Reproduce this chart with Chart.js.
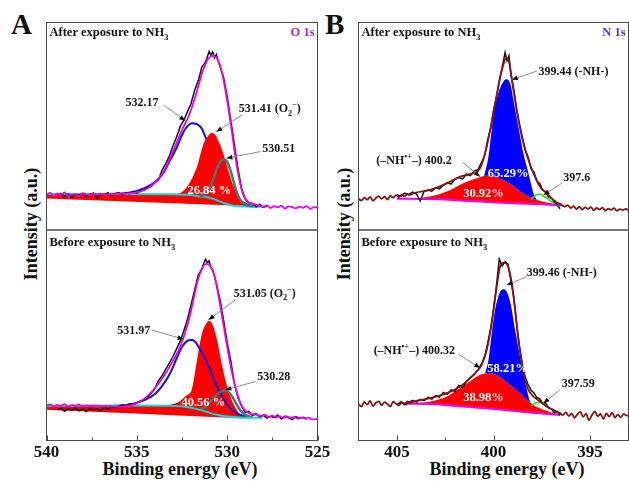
<!DOCTYPE html>
<html><head><meta charset="utf-8">
<script src="https://cdn.jsdelivr.net/npm/chart.js@4.4.1/dist/chart.umd.min.js"></script>
<style>
html,body{margin:0;padding:0;background:#fff;}
body{width:629px;height:481px;position:relative;overflow:hidden;font-family:'Liberation Serif','Times New Roman',serif;color:#111;}
canvas{position:absolute;}
.big{position:absolute;font-weight:bold;font-size:29px;line-height:32px;}
.ytitle{position:absolute;width:200px;height:20px;line-height:20px;font-size:18px;font-weight:bold;text-align:center;transform:rotate(-90deg);white-space:nowrap;}
.xtitle{position:absolute;width:300px;height:20px;line-height:20px;font-size:18px;font-weight:bold;text-align:center;white-space:nowrap;}
</style></head><body>
<div class="big" style="left:11px;top:7.5px;">A</div>
<div class="big" style="left:325px;top:7.5px;">B</div>
<div class="ytitle" style="left:-69px;top:214px;">Intensity (a.u.)</div>
<div class="ytitle" style="left:244px;top:214px;">Intensity (a.u.)</div>
<div class="xtitle" style="left:30px;top:459px;">Binding energy (eV)</div>
<div class="xtitle" style="left:357px;top:459px;">Binding energy (eV)</div>
<canvas id="tl" width="335" height="221" style="left:10px;top:16px;"></canvas>
<canvas id="bl" width="335" height="257" style="left:10px;top:224px;"></canvas>
<canvas id="tr" width="277" height="221" style="left:352px;top:16px;"></canvas>
<canvas id="br" width="277" height="257" style="left:352px;top:224px;"></canvas>
<script>
// ---------------- tick labels ----------------
const o1sTicks = [540, 535, 530, 525];
const o1sMinor = [537.5, 532.5, 527.5];
const n1sTicks = [405, 400, 395];
const n1sMinor = [402.5, 397.5];

// ---------------- O 1s, after exposure (binding energy eV, intensity a.u.) ----------------
const tlEnvelope = [[540.0,17.2],[539.8,17.9],[539.6,16.5],[539.4,17.6],[539.2,16.9],[539.0,18.1],[538.8,15.9],[538.6,17.3],[538.4,17.0],[538.2,16.4],[538.0,17.7],[537.8,17.2],[537.6,16.8],[537.4,17.5],[537.2,17.1],[537.0,17.4],[536.7,17.2],[536.4,17.4],
 [535.92,17.4],[535.2,17.9],[534.81,18.5],[534.26,20.9],[533.52,28.1],[532.97,38.6],[532.50,48.2],[532.14,54.7],[531.76,64.3],[531.39,75.6],[531.03,82.8],[530.75,83.9],[530.47,81.2],[530.28,75.6],[530.10,67.5],[529.92,57.9],[529.73,46.7],[529.55,35.4],[529.36,25.7],[529.17,18.5],[528.90,13.7],[528.53,12.5],[528.16,11.6],
 [528.0,11.2],[527.8,11.9],[527.6,10.6],[527.4,11.5],[527.2,10.9],[527.0,11.7],[526.8,10.3],[526.6,11.4],[526.4,11.0],[526.2,10.4],[526.0,11.3],[525.8,10.7],[525.6,11.5],[525.4,10.2],[525.2,11.0],[525.0,10.8]];
const tlRaw = [[539.4,16.8],[539.2,17.5],[539.0,16.2],[538.8,17.4],[538.6,15.6],[538.4,17.2],[538.2,16.9],[538.0,17.6],[537.8,16.0],[537.6,17.3],[537.4,17.8],[537.2,15.4],[537.0,17.5],[536.8,17.0],[536.6,18.0],[536.4,16.3],[536.2,17.6],[536.0,17.9],[535.8,16.8],[535.6,18.2],[535.4,17.5],[535.2,18.4],[535.0,17.8],[534.8,18.9],[534.6,19.3],[534.4,20.4],[534.2,21.0],[534.0,22.8],[533.8,24.1],[533.6,28.9],[533.4,32.0],[533.2,35.6],[533.0,40.6],[532.8,44.8],[532.6,49.8],[532.4,52.9],[532.2,57.0],[532.0,61.0],[531.8,67.2],[531.6,72.0],[531.4,78.5],[531.2,80.9],[531.0,86.0],[530.9,84.2],[530.8,85.8],[530.7,83.0],[530.6,84.7],[530.5,81.5],[530.4,79.0],[530.2,73.5],[530.0,64.3],[529.8,53.0],[529.6,41.0],[529.4,29.4],[529.2,19.8],[529.0,15.2],[528.8,13.1],[528.6,12.8],[528.4,11.2],[528.2,12.3],[528.0,10.9],[527.8,11.6]];
const tlBaseline = [[540.0,17.3],[535.92,17.3],[533.70,17.2],[532.26,17.0],[531.49,16.2],[531.10,15.8],[530.77,15.0],[530.39,13.7],[530.0,12.5],[529.67,11.7],[529.28,11.4],[528.55,11.2],[528.05,11.2]];
const tlO2Peak = [[540.0,17.3],[535.0,17.3],[532.78,17.5],[532.22,20.9],[531.67,30.5],[531.30,41.8],[531.08,45.0],[530.89,46.7],[530.65,45.8],[530.47,42.6],[530.19,36.2],[529.92,28.1],[529.64,20.9],[529.36,15.3],[529.09,12.5],[528.90,11.6]];
const tlO2Floor = [[540.0,15.2],[528.90,11.6]];
const tl532Peak = [[536.48,17.3],[535.37,18.1],[534.54,20.3],[533.98,23.2],[533.52,27.6],[533.15,33.8],[532.78,40.0],[532.50,45.8],[532.22,49.8],[531.95,51.5],[531.67,51.0],[531.39,48.7],[531.21,45.0],[530.77,36.7],[530.39,28.0],[530.06,21.7],[529.71,17.4],[529.38,14.7],[529.05,13.0],[528.71,11.8],[528.27,11.3]];
const tl530Peak = [[531.49,16.1],[531.20,17.5],[530.93,21.2],[530.75,24.9],[530.56,29.8],[530.38,33.0],[530.19,34.1],[530.01,33.0],[529.82,28.9],[529.64,23.3],[529.45,17.7],[529.27,14.5],[528.99,12.2],[528.55,11.4]];

// ---------------- O 1s, before exposure ----------------
const blEnvelope = [[540.0,16.6],[539.8,17.2],[539.6,16.1],[539.4,16.9],[539.2,16.4],[539.0,17.3],[538.8,16.0],[538.6,16.8],[538.4,16.5],[538.2,17.0],[538.0,16.2],[537.8,16.7],[537.6,16.4],[537.3,16.6],[537.0,16.3],[536.6,16.4],[536.3,16.2],
 [535.92,16.1],[534.81,18.5],[534.08,24.1],[533.52,30.4],[532.97,38.3],[532.60,44.6],[532.22,54.1],[531.95,63.6],[531.67,74.7],[531.39,81.8],[531.15,83.9],[530.93,82.9],[530.69,77.8],[530.47,68.3],[530.19,54.1],[529.97,43.1],[529.73,32.0],[529.45,22.5],[529.17,16.1],[528.81,13.0],[528.34,12.2],
 [528.1,11.6],[527.9,12.3],[527.7,11.1],[527.5,11.8],[527.3,10.9],[527.1,11.6],[526.9,10.6],[526.7,11.4],[526.5,10.8],[526.3,11.2],[526.1,10.3],[525.9,11.0],[525.7,10.5],[525.5,10.9],[525.3,10.0],[525.0,10.2]];
const blRaw = [[539.4,14.6],[539.2,15.2],[539.0,13.9],[538.8,15.0],[538.6,14.3],[538.4,15.5],[538.2,14.1],[538.0,14.9],[537.8,13.8],[537.6,15.3],[537.4,14.5],[537.2,15.1],[537.0,14.2],[536.8,15.6],[536.6,14.8],[536.4,16.0],[536.2,15.5],[536.0,16.4],[535.8,16.9],[535.6,16.5],[535.4,17.3],[535.2,17.0],[535.0,17.9],[534.8,18.8],[534.6,19.2],[534.4,20.6],[534.2,22.4],[534.0,24.7],[533.8,28.5],[533.6,30.8],[533.4,33.9],[533.2,36.8],[533.0,39.9],[532.8,43.5],[532.6,47.2],[532.4,52.0],[532.2,57.5],[532.0,64.4],[531.8,71.5],[531.6,78.6],[531.4,81.4],[531.3,84.2],[531.2,86.0],[531.1,84.5],[531.0,85.3],[530.9,82.0],[530.8,81.2],[530.6,74.5],[530.4,67.0],[530.2,57.3],[530.0,46.5],[529.8,37.8],[529.6,26.9],[529.4,20.3],[529.2,16.2],[529.0,13.4],[528.8,13.9],[528.6,11.8],[528.4,12.7],[528.2,11.2],[528.0,12.0],[527.8,10.6],[527.6,11.5],[527.4,10.9],[527.2,12.1],[527.0,10.2],[526.8,11.6],[526.6,10.8],[526.4,9.9],[526.2,11.3],[526.0,10.5],[525.8,11.0],[525.6,10.1]];
const blBaseline = [[540.0,16.5],[535.92,16.6],[533.15,16.5],[532.22,15.9],[531.67,14.9],[531.11,13.5],[530.56,12.2],[530.01,11.4],[529.27,10.9],[528.53,10.8],[528.05,10.8]];
const blO2Peak = [[540.0,16.5],[535.0,16.6],[533.4,16.7],[533.0,17.3],[532.6,18.8],[532.27,21.2],[531.95,24.6],[531.67,38.3],[531.39,51.0],[531.15,55.7],[531.03,56.8],[530.84,55.7],[530.56,47.8],[530.38,39.9],[530.10,28.8],[529.82,20.9],[529.54,15.4],[529.27,12.2],[528.99,10.6]];
const blO2Floor = [[540.0,14.6],[528.99,10.5]];
const bl532Peak = [[536.48,16.2],[535.37,17.2],[534.54,19.3],[533.98,22.2],[533.52,26.9],[533.15,32.1],[532.78,39.3],[532.49,44.5],[532.14,47.6],[531.93,47.8],[531.76,46.8],[531.39,41.5],[531.02,35.1],[530.65,27.2],[530.28,20.9],[529.92,16.1],[529.55,13.3],[529.17,11.9],[528.71,10.9]];
const bl530Peak = [[531.49,14.6],[531.21,16.0],[530.93,18.4],[530.65,21.2],[530.38,23.1],[530.16,23.8],[529.93,23.1],[529.71,20.7],[529.49,17.4],[529.27,14.3],[528.99,12.2],[528.60,11.0]];

// ---------------- N 1s, after exposure ----------------
const trEnvelope = [[407.0,15.0],[406.85,14.2],[406.7,15.6],[406.55,14.6],[406.4,15.9],[406.25,14.1],[406.1,15.4],[405.95,16.3],[405.8,15.0],[405.65,16.1],[405.5,14.7],[405.35,16.4],[405.2,15.6],[405.05,16.8],[404.9,15.9],[404.75,17.0],[404.6,16.3],[404.45,17.4],[404.3,16.9],
 [404.15,17.7],[403.29,19.3],[402.42,22.5],[401.73,25.7],[401.04,27.4],[400.69,29.8],[400.35,40.2],[400.01,56.3],[399.75,69.1],[399.49,79.6],[399.35,82.8],[399.18,80.4],[398.97,67.5],[398.71,53.1],[398.45,41.8],[398.19,33.8],[397.93,27.4],[397.59,20.9],[397.24,17.7],[396.90,14.5],[396.46,12.1],
 [396.3,11.3],[396.15,12.0],[396.0,10.6],[395.85,11.5],[395.7,10.1],[395.55,11.2],[395.4,9.8],[395.25,10.9],[395.1,10.2],[394.95,11.0],[394.8,9.5],[394.65,10.6],[394.5,9.9],[394.35,10.8],[394.2,9.4],[394.05,10.3],[393.9,9.7],[393.75,10.5],[393.6,9.2],[393.45,10.1],[393.3,9.6],[393.15,10.2],[393.0,9.5]];
const trRaw = [[405.0,17.0],[404.8,16.2],[404.6,17.8],[404.4,16.9],[404.2,18.3],[404.0,17.5],[403.8,14.0],[403.6,18.6],[403.4,19.3],[403.2,18.7],[403.0,20.4],[402.8,19.8],[402.6,21.6],[402.4,22.9],[402.2,22.1],[402.0,24.5],[401.8,25.3],[401.6,24.6],[401.4,27.0],[401.2,26.2],[401.0,28.5],[400.8,29.1],[400.6,33.0],[400.45,36.2],[400.3,43.5],[400.15,49.0],[400.0,57.5],[399.85,63.8],[399.7,72.0],[399.55,78.4],[399.4,85.5],[399.3,81.6],[399.2,84.0],[399.1,75.2],[398.95,67.9],[398.8,58.5],[398.65,51.0],[398.5,44.5],[398.35,38.6],[398.2,35.0],[398.05,29.4],[397.9,27.9],[397.75,23.5],[397.6,22.4],[397.45,19.2],[397.3,18.5],[397.15,16.0],[397.0,15.4],[396.85,13.6],[396.7,12.4],[396.55,10.2]];
const trBaseline = [[405.01,15.1],[403.28,14.9],[400.69,13.7],[398.97,12.9],[397.59,12.4],[396.45,11.8]];
const trNHPlusPeak = [[404.32,14.9],[403.29,16.1],[402.42,18.5],[401.56,22.5],[400.87,24.9],[400.35,26.1],[399.92,25.7],[399.49,24.1],[399.05,21.7],[398.62,18.5],[398.19,16.1],[397.76,14.5],[397.24,13.2],[396.55,12.0]];
const trNHPeak = [[400.49,25.9],[400.26,35.4],[400.01,54.7],[399.75,66.0],[399.49,71.5],[399.35,72.7],[399.14,70.8],[398.97,62.7],[398.71,49.8],[398.45,37.0],[398.19,27.4],[398.02,20.9],[397.90,16.9],[397.74,14.5]];
const tr3976Peak = [[398.05,14.7],[397.90,16.2],[397.74,17.1],[397.59,17.2],[397.43,16.5],[397.22,15.2],[397.02,13.8],[396.81,12.8],[396.55,12.1]];

// ---------------- N 1s, before exposure ----------------
const brEnvelope = [[407.0,17.2],[406.85,16.1],[406.7,18.3],[406.55,17.0],[406.4,18.8],[406.25,16.4],[406.1,17.9],[405.95,18.6],[405.8,16.8],[405.65,18.2],[405.5,17.3],[405.35,16.2],[405.2,18.4],[405.05,17.5],[404.9,16.7],[404.75,18.1],[404.6,17.6],[404.45,18.6],[404.3,17.9],
 [404.15,18.5],[403.29,20.1],[402.42,22.5],[401.73,25.6],[401.21,29.6],[400.87,32.8],[400.61,35.9],[400.35,43.1],[400.09,55.7],[399.83,73.1],[399.66,82.6],[399.45,84.5],[399.28,83.4],[399.05,74.7],[398.88,62.0],[398.71,47.8],[398.53,36.7],[398.36,28.8],[398.19,24.1],[397.93,20.9],[397.59,18.5],[397.24,16.1],[396.90,14.6],[396.55,13.0],
 [396.4,12.1],[396.25,13.4],[396.1,11.6],[395.95,12.9],[395.8,10.8],[395.65,12.5],[395.5,13.6],[395.35,11.2],[395.2,12.7],[395.05,9.6],[394.9,12.0],[394.75,13.8],[394.6,11.5],[394.45,12.6],[394.3,10.2],[394.15,12.9],[394.0,11.4],[393.85,13.2],[393.7,10.9],[393.55,12.3],[393.4,11.0],[393.25,12.6],[393.1,11.8],[393.0,12.2]];
const brRaw = [[405.0,17.1],[404.8,18.4],[404.6,16.9],[404.4,18.0],[404.2,19.1],[404.0,18.2],[403.8,19.6],[403.6,18.9],[403.4,20.5],[403.2,19.7],[403.0,21.3],[402.8,20.6],[402.6,22.8],[402.4,21.9],[402.2,24.0],[402.0,23.4],[401.8,26.1],[401.6,25.3],[401.4,28.0],[401.2,29.9],[401.0,31.2],[400.8,33.6],[400.6,36.8],[400.45,40.1],[400.3,46.3],[400.15,53.0],[400.0,62.5],[399.85,73.4],[399.7,86.1],[399.55,82.9],[399.4,85.0],[399.25,83.8],[399.1,76.1],[398.95,68.2],[398.8,55.7],[398.65,44.6],[398.5,36.1],[398.35,30.0],[398.2,26.4],[398.05,23.9],[397.9,22.6],[397.75,20.4],[397.6,19.8],[397.45,17.6],[397.3,17.9],[397.15,15.5],[397.0,15.0],[396.85,13.1],[396.7,13.8],[396.55,12.0]];
const brBaseline = [[404.58,17.5],[403.29,17.3],[401.56,16.1],[399.83,14.9],[398.10,13.3],[396.55,12.1]];
const brNHPlusPeak = [[404.15,17.7],[403.29,18.5],[402.42,20.9],[401.73,24.9],[401.12,28.8],[400.69,31.2],[400.35,32.0],[400.01,31.7],[399.57,29.6],[399.14,26.4],[398.62,22.5],[398.27,19.3],[397.93,16.9],[397.41,14.6],[396.90,13.0],[396.46,12.2]];
const brNHPeak = [[400.44,31.9],[400.26,38.3],[400.09,51.0],[399.92,62.0],[399.69,70.0],[399.49,71.9],[399.31,70.7],[399.10,64.4],[398.88,52.5],[398.66,41.5],[398.45,32.0],[398.27,24.1],[398.19,20.9],[398.10,18.2]];
const br3976Peak = [[398.05,16.5],[397.90,17.4],[397.74,18.0],[397.59,18.1],[397.38,17.2],[397.12,15.6],[396.81,13.9],[396.46,12.2]];

// ---------------- rendering ----------------
const FAM = "'Liberation Serif','Times New Roman',serif";
Chart.defaults.font.family = FAM;

function drawRich(ctx, x, yc, segs, size, align, color) {
  const parts = segs.map(s => {
    const t = s[0], m = s[1] || 0;
    const fs = m ? size * 0.68 : size;
    ctx.font = 'bold ' + fs + 'px ' + FAM;
    return {t, m, fs, w: ctx.measureText(t).width};
  });
  const total = parts.reduce((a, p) => a + p.w, 0);
  let cx = align === 'right' ? x - total : align === 'center' ? x - total / 2 : x;
  const base = yc + size * 0.33;
  ctx.fillStyle = color;
  ctx.textAlign = 'left';
  ctx.textBaseline = 'alphabetic';
  parts.forEach(p => {
    ctx.font = 'bold ' + p.fs + 'px ' + FAM;
    const dy = p.m === 1 ? size * 0.28 : p.m === 2 ? -size * 0.42 : 0;
    ctx.fillText(p.t, cx, base + dy);
    cx += p.w;
  });
}

const O2 = [['(O',0],['2',1],['\u2212',2],[')',0]];
const panelCfg = {
  tl: { title: [['After exposure to NH',0],['3',1]], titleDy: 9.5, core: 'O 1s', coreColor: '#9630d6', bottomTicks: false,
    pcts: [{e:530.99, v:19.3, t:'26.84 %'}],
    notes: [
      {t:[['532.17',0]], e:533.80, v:61.9, align:'right', from:[533.52,60.3], to:[532.32,52.6]},
      {t:[['531.41 ',0]].concat(O2), e:529.36, v:58.7, align:'left', from:[529.16,55.5], to:[530.60,47.3]},
      {t:[['530.51',0]], e:528.06, v:39.4, align:'left', from:[528.15,37.8], to:[530.04,34.6]}
    ]},
  bl: { title: [['Before exposure to NH',0],['3',1]], titleDy: 12, core: '', bottomTicks: true, major: o1sTicks, minor: o1sMinor,
    pcts: [{e:531.32, v:18.5, t:'40.56 %'}],
    notes: [
      {t:[['531.97',0]], e:534.26, v:52.5, align:'right', from:[534.17,52.5], to:[532.41,48.1]},
      {t:[['531.05 ',0]].concat(O2), e:529.64, v:70.0, align:'left', from:[529.55,66.8], to:[531.03,57.3]},
      {t:[['530.28',0]], e:528.34, v:30.4, align:'left', from:[528.43,28.0], to:[530.10,24.1]}
    ]},
  tr: { title: [['After exposure to NH',0],['3',1]], titleDy: 9.5, core: 'N 1s', coreColor: '#5b34d4', bottomTicks: false,
    pcts: [{e:399.24, v:27.4, t:'65.29%'}, {e:400.52, v:17.7, t:'30.92%'}],
    notes: [
      {t:[['399.44 (-NH-)',0]], e:397.67, v:76.4, align:'left', from:[397.76,76.6], to:[399.05,72.4]},
      {t:[['(\u2013NH',0],['\u2022+',2],['\u2013) 400.2',0]], e:402.16, v:33.8, align:'right', from:[401.64,32.9], to:[400.69,25.7]},
      {t:[['397.6',0]], e:396.38, v:25.7, align:'left', from:[396.46,22.5], to:[397.41,16.9]}
    ]},
  br: { title: [['Before exposure to NH',0],['3',1]], titleDy: 12, core: '', bottomTicks: true, major: n1sTicks, minor: n1sMinor,
    pcts: [{e:399.27, v:34.4, t:'58.21%'}, {e:400.52, v:20.9, t:'38.98%'}],
    notes: [
      {t:[['399.46 (-NH-)',0]], e:398.27, v:80.2, align:'left', from:[398.27,77.8], to:[399.31,73.9]},
      {t:[['(\u2013NH',0],['\u2022+',2],['\u2013) 400.32',0]], e:401.99, v:43.0, align:'right', from:[401.83,41.1], to:[400.69,34.4]},
      {t:[['397.59',0]], e:396.46, v:27.2, align:'left', from:[396.55,24.1], to:[397.41,17.8]}
    ]}
};

const decor = {
  id: 'decor',
  afterDatasetsDraw(chart) {
    const cfg = panelCfg[chart.canvas.id];
    const ctx = chart.ctx, a = chart.chartArea, xs = chart.scales.x, ys = chart.scales.y;
    ctx.save();
    cfg.pcts.forEach(p => drawRich(ctx, xs.getPixelForValue(p.e), ys.getPixelForValue(p.v), [[p.t,0]], 12.5, 'center', '#ffffff'));
    cfg.notes.forEach(n => {
      const x1 = xs.getPixelForValue(n.from[0]), y1 = ys.getPixelForValue(n.from[1]);
      const x2 = xs.getPixelForValue(n.to[0]), y2 = ys.getPixelForValue(n.to[1]);
      ctx.strokeStyle = '#8a8a8a'; ctx.lineWidth = 1;
      ctx.beginPath(); ctx.moveTo(x1, y1); ctx.lineTo(x2, y2); ctx.stroke();
      const ang = Math.atan2(y2 - y1, x2 - x1), L = 6, W = 2.4;
      ctx.fillStyle = '#111';
      ctx.beginPath();
      ctx.moveTo(x2, y2);
      ctx.lineTo(x2 - L*Math.cos(ang) + W*Math.sin(ang), y2 - L*Math.sin(ang) - W*Math.cos(ang));
      ctx.lineTo(x2 - L*Math.cos(ang) - W*Math.sin(ang), y2 - L*Math.sin(ang) + W*Math.cos(ang));
      ctx.closePath(); ctx.fill();
      drawRich(ctx, xs.getPixelForValue(n.e), ys.getPixelForValue(n.v), n.t, 12, n.align, '#151515');
    });
    ctx.strokeStyle = '#4a4a4a'; ctx.lineWidth = 1;
    ctx.strokeRect(a.left, a.top, a.right - a.left, a.bottom - a.top);
    if (cfg.bottomTicks) {
      ctx.beginPath();
      cfg.major.forEach(v => { const px = Math.round(xs.getPixelForValue(v)) + 0.5; ctx.moveTo(px, a.bottom); ctx.lineTo(px, a.bottom - 5); });
      cfg.minor.forEach(v => { const px = Math.round(xs.getPixelForValue(v)) + 0.5; ctx.moveTo(px, a.bottom); ctx.lineTo(px, a.bottom - 3); });
      ctx.stroke();
    }
    drawRich(ctx, a.left + 3, a.top + cfg.titleDy, cfg.title, 12.5, 'left', '#111');
    if (cfg.core) drawRich(ctx, a.right - 3, a.top + 9.5, [[cfg.core,0]], 12.5, 'right', cfg.coreColor);
    ctx.restore();
  }
};

function ds(data, color, width, order, extra) {
  return Object.assign({
    data: data.map(p => ({x: p[0], y: p[1]})),
    borderColor: color, borderWidth: width, pointRadius: 0, fill: false, order: order,
    cubicInterpolationMode: 'monotone'
  }, extra || {});
}
const RAW = {cubicInterpolationMode: 'default', tension: 0};

function makeChart(id, datasets, xmin, xmax, ticks, bottom, pad) {
  return new Chart(document.getElementById(id), {
    type: 'line',
    data: {datasets},
    options: {
      responsive: false, animation: false, devicePixelRatio: 1, events: [],
      layout: {padding: pad},
      plugins: {legend: {display: false}, tooltip: {enabled: false}},
      scales: {
        x: {type: 'linear', min: xmin, max: xmax, reverse: true, display: bottom,
            grid: {display: false, drawTicks: false}, border: {display: false},
            ticks: {font: {size: 17, weight: 'bold', family: FAM}, color: '#111', padding: 2, maxRotation: 0, autoSkip: false},
            afterBuildTicks: s => { s.ticks = ticks.map(v => ({value: v})); },
            afterFit: s => { if (bottom) s.height = 40.5; }},
        y: {type: 'linear', min: 0, max: 100, display: false}
      }
    },
    plugins: [decor]
  });
}

// O 1s after
makeChart('tl', [
  ds(tlO2Floor, 'rgba(0,0,0,0)', 0, 55),
  ds(tlO2Peak, 'rgba(0,0,0,0)', 0, 50, {fill: {target: 0}, backgroundColor: '#ff0000'}),
  ds(tl532Peak, '#1414d2', 2, 60),
  ds(tlBaseline, '#00dede', 2, 40),
  ds(tl530Peak, '#4a7474', 2.5, 30),
  ds(tlRaw, '#111111', 1.5, 20, RAW),
  ds(tlEnvelope, '#ee00ee', 1.8, 10)
], 525, 540, o1sTicks, false, {left: 36.5, right: 27.5, top: 6.5, bottom: 7});

// O 1s before
makeChart('bl', [
  ds(blO2Floor, 'rgba(0,0,0,0)', 0, 55),
  ds(blO2Peak, 'rgba(0,0,0,0)', 0, 50, {fill: {target: 0}, backgroundColor: '#ff0000'}),
  ds(bl532Peak, '#1414d2', 2, 40),
  ds(bl530Peak, '#4a7474', 2.5, 35),
  ds(blBaseline, '#00dede', 2, 30),
  ds(blRaw, '#111111', 1.5, 20, RAW),
  ds(blEnvelope, '#ee00ee', 1.8, 10)
], 525, 540, o1sTicks, true, {left: 36.5, right: 27.5, top: 6, bottom: 0});

// N 1s after
makeChart('tr', [
  ds(trBaseline, '#ee00ee', 2, 40),
  ds(trNHPlusPeak, 'rgba(0,0,0,0)', 0, 60, {fill: {target: 0}, backgroundColor: '#ff0000'}),
  ds(trNHPeak, 'rgba(0,0,0,0)', 0, 50, {fill: {target: 1}, backgroundColor: '#0000ff'}),
  ds(tr3976Peak, '#22dd22', 1.6, 30),
  ds(trRaw, '#111111', 1.5, 20, RAW),
  ds(trEnvelope, '#861414', 1.8, 10)
], 393, 407, n1sTicks, false, {left: 6.5, right: 0.5, top: 6.5, bottom: 7});

// N 1s before
makeChart('br', [
  ds(brBaseline, '#ee00ee', 2, 40),
  ds(brNHPlusPeak, 'rgba(0,0,0,0)', 0, 60, {fill: {target: 0}, backgroundColor: '#ff0000'}),
  ds(brNHPeak, 'rgba(0,0,0,0)', 0, 50, {fill: {target: 1}, backgroundColor: '#0000ff'}),
  ds(br3976Peak, '#22dd22', 1.6, 30),
  ds(brRaw, '#111111', 1.5, 20, RAW),
  ds(brEnvelope, '#861414', 1.8, 10)
], 393, 407, n1sTicks, true, {left: 6.5, right: 0.5, top: 6, bottom: 0});
</script>
</body></html>
